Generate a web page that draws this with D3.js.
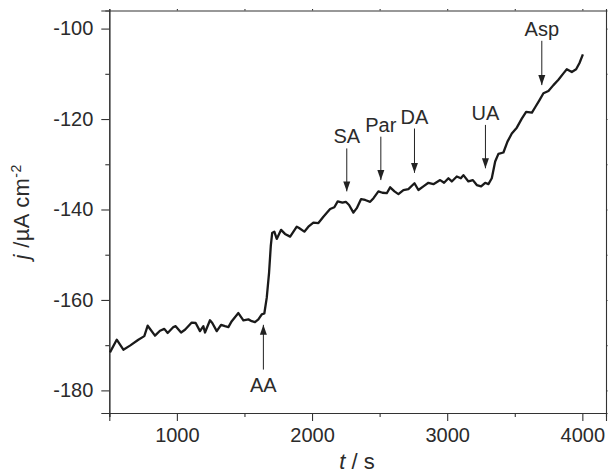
<!DOCTYPE html>
<html>
<head>
<meta charset="utf-8">
<script src="https://cdn.jsdelivr.net/npm/d3@7"></script>
<style>
  body { margin: 0; background: #fff; }
  text { font-family: "Liberation Sans", Arial, sans-serif; fill: #2b2b2b; }
</style>
</head>
<body>
<script>
var width = 609,
    height = 475;

// time (s) and current density (uA cm-2)
var tVals = [505, 555, 604, 653, 715, 759, 784, 838, 875, 907, 932, 974, 991, 1031, 1060,
  1110, 1139, 1171, 1196, 1208, 1245, 1262, 1295, 1327, 1356, 1381, 1406, 1455, 1492, 1529,
  1554, 1578, 1603, 1628, 1647, 1665, 1682, 1695, 1705, 1721, 1739, 1771, 1800, 1838, 1887,
  1904, 1943, 1973, 2010, 2047, 2084, 2116, 2134, 2165, 2190, 2225, 2250, 2274, 2306, 2331,
  2363, 2393, 2430, 2455, 2491, 2521, 2553, 2578, 2610, 2639, 2676, 2713, 2758, 2787, 2824,
  2861, 2898, 2948, 2977, 3009, 3034, 3071, 3101, 3120, 3157, 3190, 3219, 3251, 3281, 3305,
  3330, 3355, 3379, 3416, 3446, 3478, 3515, 3552, 3584, 3627, 3651, 3683, 3712, 3749, 3786,
  3823, 3860, 3885, 3922, 3954, 3979, 4004];
var jVals = [-171.6, -168.8, -171.0, -170.1, -168.8, -168.0, -165.7, -167.9, -166.8, -166.4,
  -167.3, -166.0, -165.8, -167.2, -166.6, -165.0, -165.1, -166.9, -165.8, -167.2, -164.5,
  -165.1, -166.9, -165.5, -165.8, -166.0, -164.7, -162.9, -164.5, -164.3, -164.7, -164.9,
  -164.3, -163.2, -163.0, -159.5, -154.0, -148.0, -145.2, -144.9, -146.5, -144.5, -145.4,
  -146.0, -143.8, -144.1, -144.9, -143.8, -142.9, -143.0, -141.6, -140.5, -139.9, -139.5,
  -138.2, -138.5, -138.3, -139.0, -140.7, -139.7, -137.7, -137.9, -138.3, -137.5, -136.0,
  -136.3, -136.4, -135.1, -136.0, -136.6, -135.7, -135.5, -134.2, -135.7, -134.9, -134.1,
  -134.4, -133.5, -134.1, -133.1, -133.8, -132.7, -133.1, -132.4, -133.8, -133.5, -134.6,
  -134.9, -134.1, -134.4, -133.1, -129.4, -127.7, -127.4, -125.0, -123.2, -121.9, -119.9,
  -118.4, -118.6, -117.4, -115.8, -114.3, -113.8, -112.5, -111.3, -109.9, -109.0, -109.6,
  -109.0, -107.6, -105.7];

// injection markers
var addNames = ["AA", "SA", "Par", "DA", "UA", "Asp"];
var addTimes = [1640, 2257, 2509, 2758, 3283, 3700];
var arrowFrom = [-175.4, -126.5, -123.9, -122.1, -121.3, -102.7];
var arrowTo = [-165.5, -136.0, -133.5, -131.9, -130.9, -112.5];

var xTicks = [1000, 2000, 3000, 4000];
var yTicks = [-180, -160, -140, -120, -100];

var x = d3.scaleLinear().domain([500, 4175]).range([109.3, 606]);
var y = d3.scaleLinear().domain([-185, -96]).range([413, 10.5]);

var svg = d3.select("body").append("svg")
    .attr("width", width)
    .attr("height", height);

svg.append("defs").append("marker")
    .attr("id", "head")
    .attr("viewBox", "0 0 10 10")
    .attr("refX", 10).attr("refY", 5)
    .attr("markerWidth", 10).attr("markerHeight", 10)
    .attr("markerUnits", "userSpaceOnUse")
    .attr("orient", "auto")
  .append("path")
    .attr("d", "M0,1.5L10,5L0,8.5Z")
    .attr("fill", "#222");

// axes
var minorX = d3.range(500, 4175, 500).filter(function (d) { return d % 1000 != 0; });
var minorY = d3.range(-180, -96, 10).filter(function (d) { return d % 20 != 0; });
var plain = function (d) { return String(d); };

function styleAxis(g) {
  g.selectAll("path, line").attr("stroke", "#333").attr("stroke-width", 1.1);
  g.selectAll("text").attr("font-size", 20).attr("fill", "#2b2b2b")
    .attr("font-family", "Liberation Sans, Arial, sans-serif");
}

svg.append("g").attr("transform", "translate(0,413)")
  .call(d3.axisBottom(x).tickValues(xTicks).tickSize(8).tickPadding(7).tickFormat(plain))
  .call(styleAxis);
svg.append("g").attr("transform", "translate(0,413)")
  .call(d3.axisBottom(x).tickValues(minorX).tickSize(4).tickFormat(""))
  .call(styleAxis);
svg.append("g").attr("transform", "translate(109.3,0)")
  .call(d3.axisLeft(y).tickValues(yTicks).tickSize(8).tickPadding(8).tickFormat(plain))
  .call(styleAxis);
svg.append("g").attr("transform", "translate(109.3,0)")
  .call(d3.axisLeft(y).tickValues(minorY).tickSize(4).tickFormat(""))
  .call(styleAxis);
svg.append("g").attr("transform", "translate(0,10.5)")
  .call(d3.axisTop(x).tickValues(xTicks.concat(minorX)).tickSize(1.5).tickFormat(""))
  .call(styleAxis);
svg.append("g").attr("transform", "translate(606,0)")
  .call(d3.axisRight(y).tickValues(yTicks.concat(minorY)).tickSize(1.5).tickFormat(""))
  .call(styleAxis);

// trace
var line = d3.line()
  .x(function (d, i) { return x(tVals[i]); })
  .y(function (d) { return y(d); })
  .curve(d3.curveLinear);

svg.append("path")
  .datum(jVals)
  .attr("d", line)
  .attr("fill", "none")
  .attr("stroke", "#1a1a1a")
  .attr("stroke-width", 2.3)
  .attr("stroke-linejoin", "round");

// arrows + labels
var marks = svg.append("g").selectAll("g")
  .data(addNames)
  .enter().append("g");

marks.append("line")
  .attr("x1", function (d, i) { return x(addTimes[i]); })
  .attr("x2", function (d, i) { return x(addTimes[i]); })
  .attr("y1", function (d, i) { return y(arrowFrom[i]); })
  .attr("y2", function (d, i) { return y(arrowTo[i]); })
  .attr("stroke", "#222")
  .attr("stroke-width", 1)
  .attr("marker-end", "url(#head)");

marks.append("text")
  .attr("x", function (d, i) { return x(addTimes[i]); })
  .attr("y", function (d, i) {
    var below = arrowFrom[i] < arrowTo[i];
    return below ? y(arrowFrom[i]) + 22 : y(arrowFrom[i]) - 5;
  })
  .attr("text-anchor", "middle")
  .attr("font-size", 20)
  .text(function (d) { return d; });

// axis titles
var xt = svg.append("text")
  .attr("x", 357).attr("y", 469)
  .attr("text-anchor", "middle")
  .attr("font-size", 22);
xt.append("tspan").attr("font-style", "italic").text("t");
xt.append("tspan").text(" / s");

var yt = svg.append("text")
  .attr("transform", "translate(29,212) rotate(-90)")
  .attr("text-anchor", "middle")
  .attr("font-size", 22)
  .attr("letter-spacing", 0.4);
yt.append("tspan").attr("font-style", "italic").text("j");
yt.append("tspan").text(" /µA cm");
yt.append("tspan").attr("font-size", 14).attr("dy", -8).text("-2");
</script>
</body>
</html>
